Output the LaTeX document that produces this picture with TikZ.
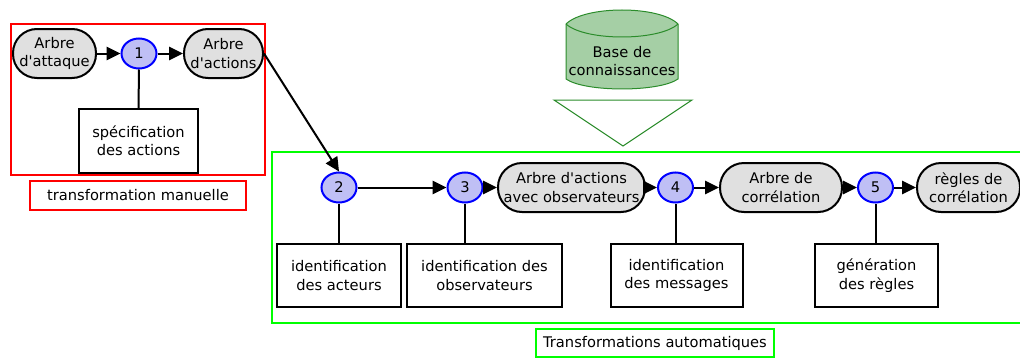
\documentclass[tikz,border=0pt]{standalone}
\usepackage{fontspec}
\newfontfamily\dv{DejaVu Sans}
\usetikzlibrary{shapes.geometric,arrows.meta}
\definecolor{circfill}{HTML}{BFBFF5}
\definecolor{stadfill}{HTML}{E0E0E0}
\definecolor{basefill}{HTML}{A5CFA5}
\definecolor{basedraw}{HTML}{2B8C2B}
\definecolor{gline}{HTML}{00FF00}
\definecolor{rline}{HTML}{FF0000}
\begin{document}
\begin{tikzpicture}[x=0.75pt,y=-0.75pt,
  every node/.style={font=\dv\fontsize{11}{13.8}\selectfont, align=center, inner sep=0pt},
  stad/.style={draw, line width=1.5pt, fill=stadfill, rounded corners=18pt, minimum height=36.75pt},
  circ/.style={ellipse, draw=blue, line width=1.5pt, fill=circfill, minimum width=26.25pt, minimum height=22.5pt},
  task/.style={draw, line width=1.5pt, fill=white, minimum height=47.25pt},
  flow/.style={line width=1.5pt, -{Triangle[length=10.5pt,width=10pt]}},
  link/.style={line width=1.5pt},
  frame/.style={line width=1.5pt},
  lab/.style={draw, line width=1.5pt, fill=white, minimum height=21.75pt}]
\useasboundingbox (0,0) rectangle (1020,357);
\clip (0,0) rectangle (1020,357);

% frames
\draw[frame, rline] (11,24) rectangle (265,175);
\draw[frame, gline] (272,152) rectangle (1040,323);
\node[lab, draw=rline, minimum width=162pt] (lman) at (138,195.5) {transformation manuelle};
\node[lab, draw=gline, minimum width=178.5pt, minimum height=21pt] (lauto) at (655,343) {Transformations automatiques};

% knowledge base
\filldraw[fill=basefill, draw=basedraw, line width=0.75pt]
  (566,24) .. controls (585,5.33) and (659,5.33) .. (678,24)
  -- (678,79) .. controls (659,92.3) and (585,92.3) .. (566,79) -- cycle;
\draw[basedraw, line width=0.75pt] (566,24) .. controls (585,41.33) and (659,41.33) .. (678,24);
\node (kb) at (622,61) {Base de\\connaissances};
\draw[basedraw, line width=0.75pt, fill=white] (554,100) -- (692,100) -- (623,146) -- cycle;

% manual part
\node[stad, minimum width=62.25pt] (att) at (54.5,53.5) {Arbre\\d'attaque};
\node[circ] (c1) at (139,53.5) {1};
\node[stad, minimum width=59.25pt] (act) at (223.5,53.5) {Arbre\\d'actions};
\node[task, minimum width=89.25pt, minimum height=48pt] (spec) at (138.5,141) {spécification\\des actions};
\draw[flow] (att) -- (c1);
\draw[flow] (c1) -- (act);
\draw[link] (c1.south) -- (spec.north);

% automatic part
\node[circ] (c2) at (339,187.5) {2};
\node[circ] (c3) at (465,187.5) {3};
\node[stad, minimum width=110.25pt] (obsA) at (571.5,187.5) {Arbre d'actions\\avec observateurs};
\node[circ] (c4) at (675.5,187.5) {4};
\node[stad, minimum width=91.5pt] (corr) at (781,187.5) {Arbre de\\corrélation};
\node[circ] (c5) at (875.5,187.5) {5};
\node[stad, minimum width=77.25pt] (regl) at (968.5,187.5) {règles de\\corrélation};

\node[task, minimum width=93pt] (acteurs) at (339,275.5) {identification\\des acteurs};
\node[task, minimum width=116.25pt] (obs) at (484.5,275.5) {identification des\\observateurs};
\node[task, minimum width=99pt] (msg) at (676.5,275.5) {identification\\des messages};
\node[task, minimum width=92.25pt] (gen) at (876.5,275.5) {génération\\des règles};

\draw[flow] (act.east) -- (c2.north);
\draw[flow] (c2) -- (c3);
\draw[flow] (c3) -- (obsA);
\draw[flow] (obsA) -- (c4);
\draw[flow] (c4) -- (corr);
\draw[flow] (corr) -- (c5);
\draw[flow] (c5) -- (regl);

\draw[link] (c2.south) -- (acteurs.north);
\draw[link] (c3.south) -- (c3.south |- obs.north);
\draw[link] (c4.south) -- (c4.south |- msg.north);
\draw[link] (c5.south) -- (c5.south |- gen.north);
\end{tikzpicture}
\end{document}
